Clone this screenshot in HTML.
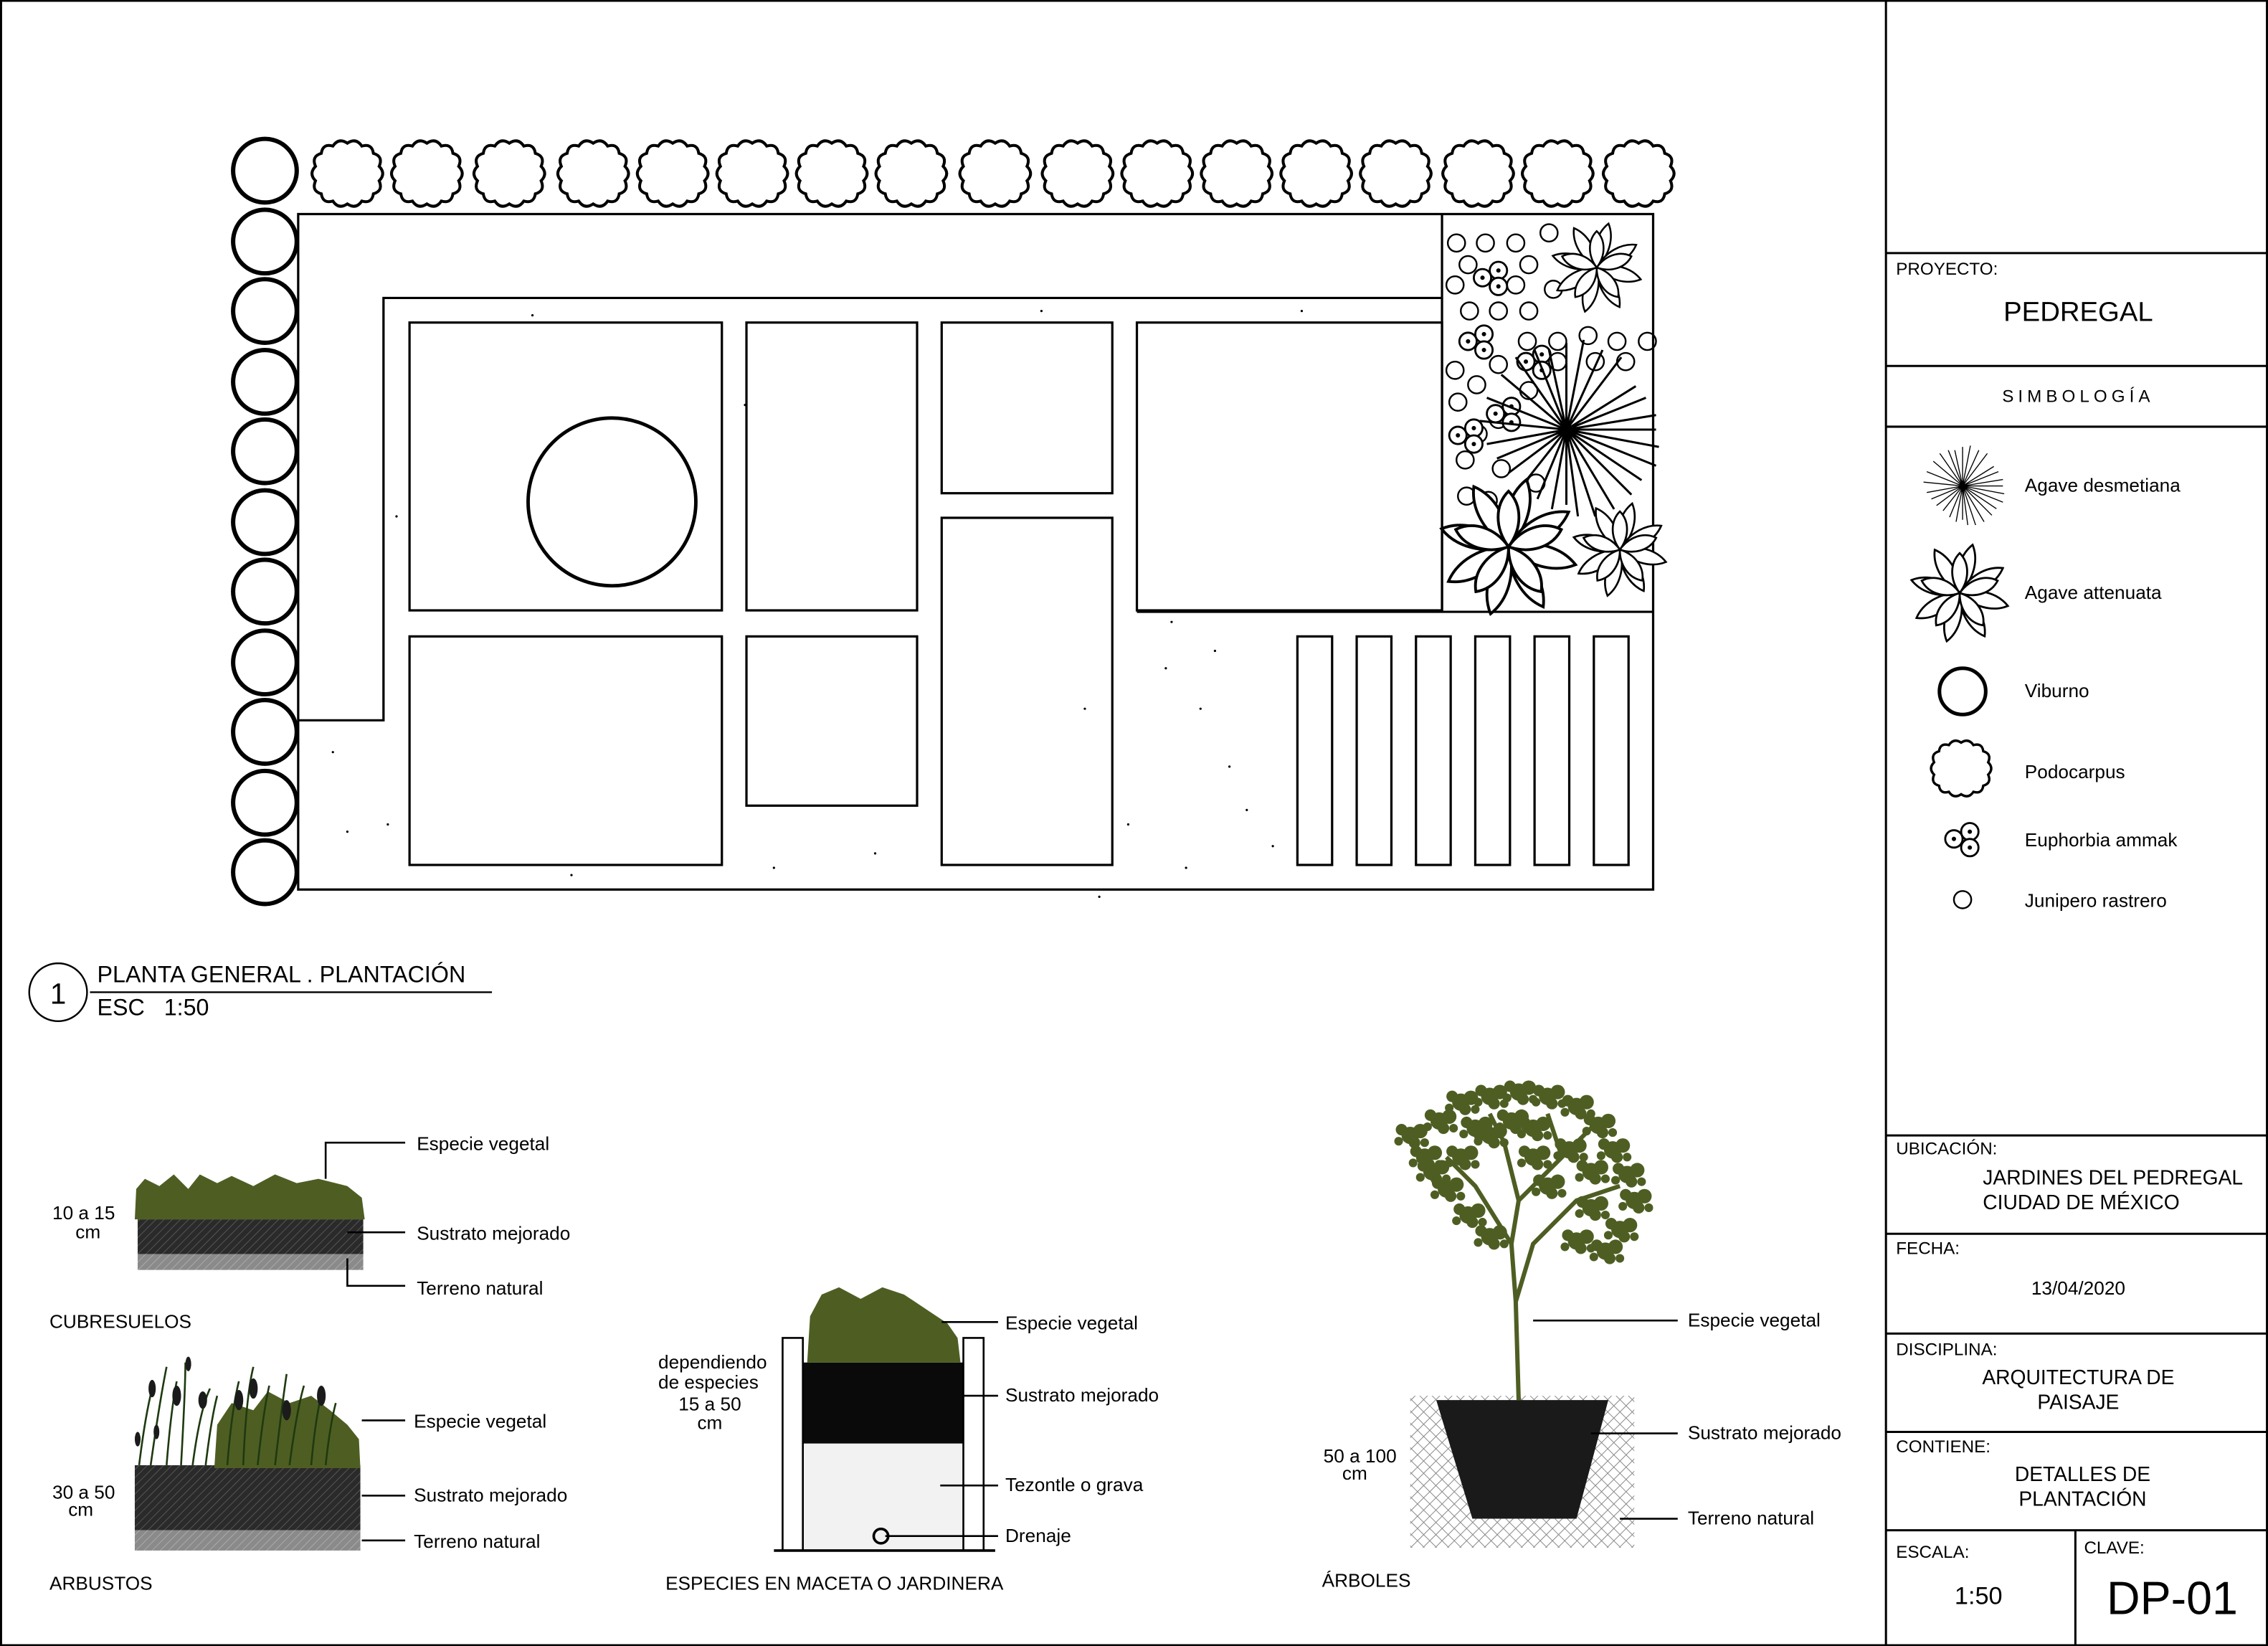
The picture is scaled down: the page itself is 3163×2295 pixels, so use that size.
<!DOCTYPE html>
<html><head><meta charset="utf-8"><style>
html,body{margin:0;padding:0;background:#fff}
svg{display:block}
text{font-family:"Liberation Sans",sans-serif;fill:#000}
</style></head><body>
<svg width="3163" height="2295" viewBox="0 0 1568 1138" xmlns="http://www.w3.org/2000/svg">
<defs>
<pattern id="hatch" width="4" height="4" patternUnits="userSpaceOnUse" patternTransform="rotate(45)">
<rect width="4" height="4" fill="#2a2a2a"/><line x1="0" y1="0" x2="0" y2="4" stroke="#555" stroke-width="1"/></pattern>
<pattern id="gray" width="4" height="4" patternUnits="userSpaceOnUse" patternTransform="rotate(45)">
<rect width="4" height="4" fill="#8a8a8a"/><line x1="0" y1="0" x2="0" y2="4" stroke="#aaa" stroke-width="1"/></pattern>
<pattern id="cross" width="6" height="6" patternUnits="userSpaceOnUse" patternTransform="rotate(45)">
<rect width="6" height="6" fill="#fff"/><path d="M0 0V6M0 0H6" stroke="#888" stroke-width="1"/></pattern>
<g id="podo"><path d="M0,-23 q6,-4 10,2 q7,-2 8,5 q7,2 4,9 q5,5 0,10 q3,7 -4,9 q-1,7 -8,5 q-4,6 -10,2 q-6,4 -10,-2 q-7,2 -8,-5 q-7,-2 -4,-9 q-5,-5 0,-10 q-3,-7 4,-9 q1,-7 8,-5 q4,-6 10,-2z" fill="#fff" stroke="#000" stroke-width="2"/></g>
<g id="agave" fill="#fff" stroke="#000" stroke-width="1.2">
<path d="M0,0 C-6,-10 -6,-22 0,-30 C6,-22 6,-10 0,0Z" transform="rotate(15)"/>
<path d="M0,0 C-6,-10 -6,-22 0,-30 C6,-22 6,-10 0,0Z" transform="rotate(60)"/>
<path d="M0,0 C-6,-10 -6,-22 0,-30 C6,-22 6,-10 0,0Z" transform="rotate(105)"/>
<path d="M0,0 C-6,-10 -6,-22 0,-30 C6,-22 6,-10 0,0Z" transform="rotate(150)"/>
<path d="M0,0 C-6,-10 -6,-22 0,-30 C6,-22 6,-10 0,0Z" transform="rotate(195)"/>
<path d="M0,0 C-6,-10 -6,-22 0,-30 C6,-22 6,-10 0,0Z" transform="rotate(240)"/>
<path d="M0,0 C-6,-10 -6,-22 0,-30 C6,-22 6,-10 0,0Z" transform="rotate(285)"/>
<path d="M0,0 C-6,-10 -6,-22 0,-30 C6,-22 6,-10 0,0Z" transform="rotate(330)"/>
<path d="M0,0 C-6,-8 -6,-18 0,-24 C6,-18 6,-8 0,0Z" transform="rotate(0)"/>
<path d="M0,0 C-6,-8 -6,-18 0,-24 C6,-18 6,-8 0,0Z" transform="rotate(72)"/>
<path d="M0,0 C-6,-8 -6,-18 0,-24 C6,-18 6,-8 0,0Z" transform="rotate(144)"/>
<path d="M0,0 C-6,-8 -6,-18 0,-24 C6,-18 6,-8 0,0Z" transform="rotate(216)"/>
<path d="M0,0 C-6,-8 -6,-18 0,-24 C6,-18 6,-8 0,0Z" transform="rotate(288)"/>
</g>
<g id="euph" fill="#fff" stroke="#000" stroke-width="1.4"><circle cx="-6" cy="0" r="6"/><circle cx="5" cy="-5" r="6"/><circle cx="5" cy="6" r="6"/><circle cx="-6" cy="0" r="0.8" fill="#000"/><circle cx="5" cy="-5" r="0.8" fill="#000"/><circle cx="5" cy="6" r="0.8" fill="#000"/></g>
<g id="star" stroke="#000" stroke-width="1.5">
<path d="M0,0L-60,-6M0,0L-55,10M0,0L-48,20M0,0L-40,30M0,0L-30,38M0,0L-20,48M0,0L-10,55M0,0L0,52M0,0L8,60M0,0L20,60M0,0L33,55M0,0L45,45M0,0L52,35M0,0L62,25M0,0L64,12M0,0L62,0M0,0L62,-10M0,0L55,-22M0,0L48,-30M0,0L38,-50M0,0L25,-55M0,0L12,-62M0,0L0,-60M0,0L-12,-55M0,0L-22,-55M0,0L-35,-50M0,0L-45,-38M0,0L-55,-22"/></g>
<g id="leafy" fill="#4e5e23"><circle cx="0" cy="0" r="6"/><circle cx="7" cy="-3" r="5"/><circle cx="-6" cy="-4" r="4"/><circle cx="3" cy="5" r="4"/><circle cx="-8" cy="4" r="3"/><circle cx="10" cy="5" r="3"/></g>
</defs>

<rect x="0.5" y="0.5" width="1567" height="1137" fill="#fff" stroke="#000" stroke-width="1.5"/>

<!-- Plan -->
<g fill="none" stroke="#000" stroke-width="1.6">
<rect x="206" y="148" width="937" height="467"/>
<path d="M206,498H265V206H997V148"/>
<path d="M997,206V423M786,423H1143"/>
<rect x="283" y="223" width="216" height="199"/>
<circle cx="423" cy="347" r="58" stroke-width="2.4"/>
<rect x="516" y="223" width="118" height="199"/>
<rect x="651" y="223" width="118" height="118"/>
<rect x="786" y="223" width="211" height="199"/>
<rect x="283" y="440" width="216" height="158"/>
<rect x="516" y="440" width="118" height="117"/>
<rect x="651" y="358" width="118" height="240"/>
<rect x="897" y="440" width="24" height="158"/><rect x="938" y="440" width="24" height="158"/><rect x="979" y="440" width="24" height="158"/><rect x="1020" y="440" width="24" height="158"/><rect x="1061" y="440" width="24" height="158"/><rect x="1102" y="440" width="24" height="158"/>
</g>
<g fill="#000">
<circle cx="368" cy="218" r="0.8"/><circle cx="515" cy="280" r="0.8"/><circle cx="274" cy="357" r="0.8"/><circle cx="240" cy="575" r="0.8"/><circle cx="268" cy="570" r="0.8"/><circle cx="395" cy="605" r="0.8"/><circle cx="605" cy="590" r="0.8"/><circle cx="806" cy="462" r="0.8"/><circle cx="830" cy="490" r="0.8"/><circle cx="850" cy="530" r="0.8"/><circle cx="862" cy="560" r="0.8"/><circle cx="880" cy="585" r="0.8"/><circle cx="820" cy="600" r="0.8"/><circle cx="780" cy="570" r="0.8"/><circle cx="230" cy="520" r="0.8"/><circle cx="535" cy="600" r="0.8"/><circle cx="720" cy="215" r="0.8"/><circle cx="900" cy="215" r="0.8"/><circle cx="810" cy="430" r="0.8"/><circle cx="840" cy="450" r="0.8"/><circle cx="750" cy="490" r="0.8"/><circle cx="760" cy="620" r="0.8"/></g>

<!-- viburno column -->
<g fill="#fff" stroke="#000" stroke-width="3">
<circle cx="183" cy="118" r="22"/><circle cx="183" cy="167" r="22"/><circle cx="183" cy="215" r="22"/><circle cx="183" cy="264" r="22"/><circle cx="183" cy="312" r="22"/><circle cx="183" cy="361" r="22"/><circle cx="183" cy="409" r="22"/><circle cx="183" cy="458" r="22"/><circle cx="183" cy="506" r="22"/><circle cx="183" cy="555" r="22"/><circle cx="183" cy="603" r="22"/></g>
<!-- podocarpus row -->
<use href="#podo" x="240" y="122"/><use href="#podo" x="295" y="122"/><use href="#podo" x="352" y="122"/><use href="#podo" x="410" y="122"/><use href="#podo" x="465" y="122"/><use href="#podo" x="520" y="122"/><use href="#podo" x="575" y="122"/><use href="#podo" x="630" y="122"/><use href="#podo" x="688" y="122"/><use href="#podo" x="745" y="122"/><use href="#podo" x="800" y="122"/><use href="#podo" x="855" y="122"/><use href="#podo" x="910" y="122"/><use href="#podo" x="965" y="122"/><use href="#podo" x="1022" y="122"/><use href="#podo" x="1077" y="122"/><use href="#podo" x="1133" y="122"/>

<!-- garden area symbols -->
<g fill="none" stroke="#000" stroke-width="1.2">
<circle cx="1007" cy="168" r="6"/><circle cx="1027" cy="168" r="6"/><circle cx="1048" cy="168" r="6"/><circle cx="1071" cy="161" r="6"/>
<circle cx="1015" cy="183" r="6"/><circle cx="1057" cy="183" r="6"/>
<circle cx="1006" cy="197" r="6"/><circle cx="1048" cy="197" r="6"/><circle cx="1074" cy="200" r="6"/>
<circle cx="1016" cy="215" r="6"/><circle cx="1036" cy="215" r="6"/><circle cx="1057" cy="215" r="6"/>
<circle cx="1056" cy="236" r="6"/><circle cx="1077" cy="236" r="6"/><circle cx="1098" cy="232" r="6"/><circle cx="1118" cy="236" r="6"/><circle cx="1139" cy="236" r="6"/>
<circle cx="1006" cy="256" r="6"/><circle cx="1036" cy="252" r="6"/><circle cx="1077" cy="250" r="6"/><circle cx="1103" cy="250" r="6"/><circle cx="1124" cy="250" r="6"/>
<circle cx="1021" cy="266" r="6"/><circle cx="1057" cy="270" r="6"/>
<circle cx="1008" cy="278" r="6"/><circle cx="1022" cy="300" r="6"/><circle cx="1036" cy="290" r="6"/>
<circle cx="1013" cy="318" r="6"/><circle cx="1038" cy="324" r="6"/><circle cx="1062" cy="334" r="6"/>
<circle cx="1014" cy="343" r="6"/><circle cx="1029" cy="346" r="6"/></g>
<use href="#euph" x="1031" y="192"/><use href="#euph" x="1021" y="236"/><use href="#euph" x="1061" y="250"/><use href="#euph" x="1040" y="286"/><use href="#euph" x="1014" y="301"/>
<use href="#star" x="1083" y="297"/>
<use href="#agave" transform="translate(1104 185) scale(1.05)"/>
<use href="#agave" transform="translate(1043 378) scale(1.6)"/>
<use href="#agave" transform="translate(1120 380) scale(1.1)"/>

<!-- title plan -->
<circle cx="40" cy="686" r="20" fill="none" stroke="#000" stroke-width="1.2"/>
<text x="40" y="694" font-size="20" text-anchor="middle">1</text>
<line x1="62" y1="686" x2="340" y2="686" stroke="#000" stroke-width="1.2"/>
<text x="67" y="679" font-size="16">PLANTA GENERAL . PLANTACIÓN</text>
<text x="67" y="702" font-size="16" xml:space="preserve">ESC   1:50</text>

<!-- Title block -->
<g stroke="#000" stroke-width="1.5">
<line x1="1304" y1="0" x2="1304" y2="1138"/>
<line x1="1304" y1="175" x2="1568" y2="175"/><line x1="1304" y1="253" x2="1568" y2="253"/><line x1="1304" y1="295" x2="1568" y2="295"/>
<line x1="1304" y1="785" x2="1568" y2="785"/><line x1="1304" y1="853" x2="1568" y2="853"/><line x1="1304" y1="922" x2="1568" y2="922"/>
<line x1="1304" y1="990" x2="1568" y2="990"/><line x1="1304" y1="1058" x2="1568" y2="1058"/><line x1="1435" y1="1058" x2="1435" y2="1138"/></g>
<text x="1311" y="190" font-size="12">PROYECTO:</text>
<text x="1437" y="222" font-size="19" text-anchor="middle">PEDREGAL</text>
<text x="1437" y="278" font-size="12" text-anchor="middle" letter-spacing="3">SIMBOLOGÍA</text>
<g transform="translate(1357 336) scale(0.45)"><use href="#star"/></g>
<text x="1400" y="340" font-size="13">Agave desmetiana</text>
<g transform="translate(1355 410) scale(1.15)"><use href="#agave"/></g>
<text x="1400" y="414" font-size="13">Agave attenuata</text>
<circle cx="1357" cy="478" r="16" fill="none" stroke="#000" stroke-width="2.5"/>
<text x="1400" y="482" font-size="13">Viburno</text>
<g transform="translate(1356 533) scale(0.85)"><use href="#podo"/></g>
<text x="1400" y="538" font-size="13">Podocarpus</text>
<use href="#euph" x="1357" y="580"/>
<text x="1400" y="585" font-size="13">Euphorbia ammak</text>
<circle cx="1357" cy="622" r="6" fill="none" stroke="#000" stroke-width="1.2"/>
<text x="1400" y="627" font-size="13">Junipero rastrero</text>
<text x="1311" y="798" font-size="12">UBICACIÓN:</text>
<text x="1371" y="819" font-size="14">JARDINES DEL PEDREGAL</text>
<text x="1371" y="836" font-size="14">CIUDAD DE MÉXICO</text>
<text x="1311" y="867" font-size="12">FECHA:</text>
<text x="1437" y="895" font-size="13" text-anchor="middle">13/04/2020</text>
<text x="1311" y="937" font-size="12">DISCIPLINA:</text>
<text x="1437" y="957" font-size="14" text-anchor="middle">ARQUITECTURA DE</text>
<text x="1437" y="974" font-size="14" text-anchor="middle">PAISAJE</text>
<text x="1311" y="1004" font-size="12">CONTIENE:</text>
<text x="1440" y="1024" font-size="14" text-anchor="middle">DETALLES DE</text>
<text x="1440" y="1041" font-size="14" text-anchor="middle">PLANTACIÓN</text>
<text x="1311" y="1077" font-size="12">ESCALA:</text>
<text x="1368" y="1109" font-size="17" text-anchor="middle">1:50</text>
<text x="1441" y="1074" font-size="12">CLAVE:</text>
<text x="1502" y="1116" font-size="32" text-anchor="middle">DP-01</text>

<!-- Cubresuelos -->
<rect x="95" y="843" width="156" height="24" fill="url(#hatch)"/>
<rect x="95" y="867" width="156" height="11" fill="url(#gray)"/>
<path d="M93,843 L94,822 L100,815 L110,820 L120,812 L130,822 L138,812 L150,818 L160,813 L175,820 L190,812 L205,818 L220,815 L240,820 L250,828 L252,843 Z" fill="#4e5e23"/>
<g stroke="#000" stroke-width="1.3" fill="none"><path d="M225,815V790H280"/><path d="M240,852H280"/><path d="M240,870V889H280"/></g>
<text x="36" y="843" font-size="13">10 a 15</text><text x="52" y="856" font-size="13">cm</text>
<text x="288" y="795" font-size="13">Especie vegetal</text>
<text x="288" y="857" font-size="13">Sustrato mejorado</text>
<text x="288" y="895" font-size="13">Terreno natural</text>
<text x="34" y="918" font-size="13">CUBRESUELOS</text>

<!-- Arbustos -->
<rect x="93" y="1013" width="156" height="45" fill="url(#hatch)"/>
<rect x="93" y="1058" width="156" height="14" fill="url(#gray)"/>
<path d="M148,1015 L150,985 L160,970 L175,975 L185,962 L200,970 L215,965 L228,975 L240,985 L248,995 L249,1015Z" fill="#4e5e23"/>
<g stroke="#1e3a10" stroke-width="1.3" fill="none">
<path d="M96,1013Q100,980 105,960M104,1013Q110,970 115,945M115,1013Q118,975 122,955M125,1013Q128,960 128,942M133,1013Q138,975 145,960M142,1013Q146,980 150,965M157,1013Q160,975 165,955M168,1013Q170,965 175,945M178,1013Q182,975 186,958M190,1013Q195,970 198,950M200,1013Q205,975 210,958M215,1013Q218,980 222,965M225,1013Q228,985 232,970"/></g>
<g fill="#1b1b1b"><ellipse cx="105" cy="960" rx="2.5" ry="6"/><ellipse cx="122" cy="965" rx="3" ry="7"/><ellipse cx="140" cy="968" rx="3" ry="6"/><ellipse cx="165" cy="968" rx="3" ry="7"/><ellipse cx="175" cy="960" rx="3" ry="7"/><ellipse cx="198" cy="975" rx="3" ry="7"/><ellipse cx="222" cy="965" rx="3" ry="7"/><ellipse cx="130" cy="943" rx="2" ry="5"/><ellipse cx="108" cy="990" rx="2" ry="5"/><ellipse cx="95" cy="995" rx="2" ry="5"/></g>
<g stroke="#000" stroke-width="1.3"><line x1="250" y1="982" x2="280" y2="982"/><line x1="250" y1="1034" x2="280" y2="1034"/><line x1="250" y1="1065" x2="280" y2="1065"/></g>
<text x="36" y="1036" font-size="13">30 a 50</text><text x="47" y="1048" font-size="13">cm</text>
<text x="286" y="987" font-size="13">Especie vegetal</text>
<text x="286" y="1038" font-size="13">Sustrato mejorado</text>
<text x="286" y="1070" font-size="13">Terreno natural</text>
<text x="34" y="1099" font-size="13">ARBUSTOS</text>

<!-- Maceta -->
<rect x="555" y="998" width="111" height="73" fill="#f2f2f2"/>
<rect x="555" y="942" width="111" height="56" fill="#0a0a0a"/>
<path d="M558,942 L560,910 L568,895 L580,890 L595,898 L610,890 L625,895 L640,905 L655,915 L662,925 L664,942Z" fill="#4e5e23"/>
<g fill="none" stroke="#000" stroke-width="1.3">
<rect x="541" y="925" width="14" height="147" fill="#fff"/><rect x="666" y="925" width="14" height="147" fill="#fff"/>
<line x1="535" y1="1072" x2="688" y2="1072" stroke-width="1.8"/>
<line x1="651" y1="914" x2="690" y2="914"/><line x1="666" y1="965" x2="690" y2="965"/><line x1="650" y1="1027" x2="690" y2="1027"/><line x1="612" y1="1062" x2="690" y2="1062"/>
<circle cx="609" cy="1062" r="5" stroke-width="1.8"/></g>
<text x="455" y="946" font-size="13">dependiendo</text><text x="455" y="960" font-size="13">de especies</text>
<text x="469" y="975" font-size="13">15 a 50</text><text x="482" y="988" font-size="13">cm</text>
<text x="695" y="919" font-size="13">Especie vegetal</text>
<text x="695" y="969" font-size="13">Sustrato mejorado</text>
<text x="695" y="1031" font-size="13">Tezontle o grava</text>
<text x="695" y="1066" font-size="13">Drenaje</text>
<text x="460" y="1099" font-size="13">ESPECIES EN MACETA O JARDINERA</text>

<!-- Arbol -->
<rect x="975" y="965" width="155" height="105" fill="url(#cross)"/>
<path d="M993,968H1112L1090,1050H1018Z" fill="#1a1a1a"/>
<g stroke="#4e5e23" stroke-width="3" fill="none"><path d="M1050,968 L1048,900 L1045,860 L1020,820 L1000,800M1045,860 L1050,830 L1080,800 L1100,780M1048,900 L1060,860 L1090,830 L1120,820M1050,830 L1040,790 L1030,770M1080,800 L1070,770"/></g>
<g>
<use href="#leafy" x="985" y="800"/><use href="#leafy" x="975" y="785"/><use href="#leafy" x="995" y="775"/><use href="#leafy" x="1010" y="762"/><use href="#leafy" x="1030" y="758"/><use href="#leafy" x="1050" y="755"/><use href="#leafy" x="1070" y="758"/><use href="#leafy" x="1090" y="765"/><use href="#leafy" x="1105" y="778"/><use href="#leafy" x="1115" y="795"/><use href="#leafy" x="1125" y="812"/><use href="#leafy" x="1130" y="830"/><use href="#leafy" x="1120" y="850"/><use href="#leafy" x="1100" y="835"/><use href="#leafy" x="1000" y="822"/><use href="#leafy" x="1015" y="840"/><use href="#leafy" x="1030" y="855"/><use href="#leafy" x="1030" y="785"/><use href="#leafy" x="1060" y="780"/><use href="#leafy" x="1085" y="795"/><use href="#leafy" x="1070" y="820"/><use href="#leafy" x="1010" y="800"/><use href="#leafy" x="1090" y="858"/>
<use href="#leafy" x="1045" y="775"/><use href="#leafy" x="1020" y="780"/><use href="#leafy" x="1100" y="810"/><use href="#leafy" x="990" y="810"/><use href="#leafy" x="1110" y="865"/><use href="#leafy" x="1060" y="800"/></g>
<g stroke="#000" stroke-width="1.3"><line x1="1060" y1="913" x2="1160" y2="913"/><line x1="1100" y1="991" x2="1160" y2="991"/><line x1="1120" y1="1050" x2="1160" y2="1050"/></g>
<text x="1167" y="917" font-size="13">Especie vegetal</text>
<text x="1167" y="995" font-size="13">Sustrato mejorado</text>
<text x="1167" y="1054" font-size="13">Terreno natural</text>
<text x="915" y="1011" font-size="13">50 a 100</text><text x="928" y="1023" font-size="13">cm</text>
<text x="914" y="1097" font-size="13">ÁRBOLES</text>
</svg>
</body></html>
